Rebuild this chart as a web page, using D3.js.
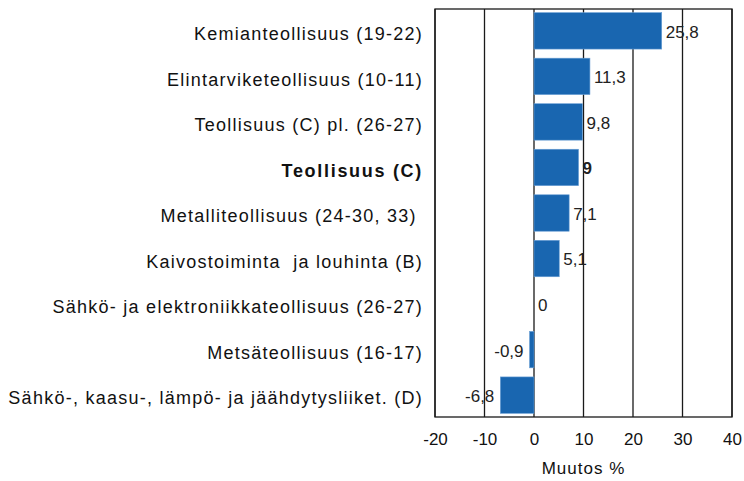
<!DOCTYPE html>
<html>
<head>
<meta charset="utf-8">
<script src="https://cdn.jsdelivr.net/npm/d3@7"></script>
<style>
    body { margin: 0; background: #fff; }
</style>
</head>
<body>
<svg id="chart"></svg>
<script>
// horizontal bar chart, change in %

var categories = [
    "Kemianteollisuus (19-22)",
    "Elintarviketeollisuus (10-11)",
    "Teollisuus (C) pl. (26-27)",
    "Teollisuus (C)",
    "Metalliteollisuus (24-30, 33) ",
    "Kaivostoiminta  ja louhinta (B)",
    "Sähkö- ja elektroniikkateollisuus (26-27)",
    "Metsäteollisuus (16-17)",
    "Sähkö-, kaasu-, lämpö- ja jäähdytysliiket. (D)"
];
var values = [25.8, 11.3, 9.8, 9, 7.1, 5.1, 0, -0.9, -6.8];
var boldCategories = ["Teollisuus (C)"];
var xTicks = [-20, -10, 0, 10, 20, 30, 40];
var xTitle = "Muutos %";

var draw_chart = (function() {

    var w = 744, h = 481;
    var plot = { left: 435, right: 732, top: 9, bottom: 417 };
    var barColor = "#1966b0";
    var fontFamily = "Liberation Sans, Arial, sans-serif";

    function fmt(v) {
        return String(v).replace(".", ",");
    }

    function drawText(svgBase, coordinate, text, config) {
        return svgBase.append("text")
            .attr("x", coordinate.x)
            .attr("y", coordinate.y)
            .attr("dy", "0.35em")
            .attr("text-anchor", config.textAnchor)
            .attr("font-family", fontFamily)
            .attr("font-size", config.fontSize)
            .attr("font-weight", config.fontWeight || "normal")
            .attr("letter-spacing", config.letterSpacing || 0)
            .attr("fill", config.color || "#000")
            .style("white-space", "pre")
            .text(text);
    }

    function draw() {
        var svgBase = d3.select("#chart")
            .attr("width", w)
            .attr("height", h);

        var x = d3.scaleLinear()
            .domain([xTicks[0], xTicks[xTicks.length - 1]])
            .range([plot.left, plot.right]);

        var y = d3.scaleBand()
            .domain(categories)
            .range([plot.top, plot.bottom])
            .paddingInner(0.2)
            .paddingOuter(0.08);

        // grid lines
        svgBase.append("g")
            .selectAll("line")
            .data(xTicks)
            .join("line")
            .attr("x1", d => x(d))
            .attr("x2", d => x(d))
            .attr("y1", plot.top)
            .attr("y2", plot.bottom)
            .attr("stroke", "#1a1a1a")
            .attr("stroke-width", 1.3);

        // frame
        svgBase.append("rect")
            .attr("x", plot.left)
            .attr("y", plot.top)
            .attr("width", plot.right - plot.left)
            .attr("height", plot.bottom - plot.top)
            .attr("fill", "none")
            .attr("stroke", "#1a1a1a")
            .attr("stroke-width", 1.3);

        // bars
        svgBase.append("g")
            .selectAll("rect")
            .data(values)
            .join("rect")
            .attr("x", d => x(Math.min(0, d)))
            .attr("y", (d, i) => y(categories[i]))
            .attr("width", d => Math.abs(x(d) - x(0)))
            .attr("height", y.bandwidth())
            .attr("fill", barColor)
            .attr("stroke", "#6a9fd4")
            .attr("stroke-width", 0.6);

        // value labels
        values.forEach(function(v, i) {
            var bold = boldCategories.indexOf(categories[i]) >= 0;
            drawText(svgBase, {
                x: v < 0 ? x(v) - 6 : x(v) + 4,
                y: y(categories[i]) + y.bandwidth() / 2 + 1
            }, fmt(v), {
                textAnchor: v < 0 ? "end" : "start",
                fontSize: "17px",
                fontWeight: bold ? "bold" : "normal",
                color: "#222"
            });
        });

        // category labels
        categories.forEach(function(c, i) {
            var bold = boldCategories.indexOf(c) >= 0;
            drawText(svgBase, {
                x: 423,
                y: y(c) + y.bandwidth() / 2 + 3
            }, c, {
                textAnchor: "end",
                fontSize: "18px",
                letterSpacing: bold ? 1.7 : 1.25,
                fontWeight: bold ? "bold" : "normal",
                color: "#111"
            });
        });

        // x axis ticks
        var xAxis = svgBase.append("g")
            .attr("transform", "translate(0," + plot.bottom + ")")
            .call(d3.axisBottom(x).tickValues(xTicks).tickSize(0).tickPadding(16).tickFormat(d => String(d)));
        xAxis.select(".domain").remove();
        xAxis.selectAll("text")
            .attr("font-family", fontFamily)
            .attr("font-size", "17px")
            .attr("fill", "#111");

        drawText(svgBase, {
            x: (plot.left + plot.right) / 2,
            y: 468
        }, xTitle, {
            textAnchor: "middle",
            fontSize: "17px",
            letterSpacing: 1,
            color: "#111"
        });
    }

    return { draw: draw };
})();

draw_chart.draw();
</script>
</body>
</html>
